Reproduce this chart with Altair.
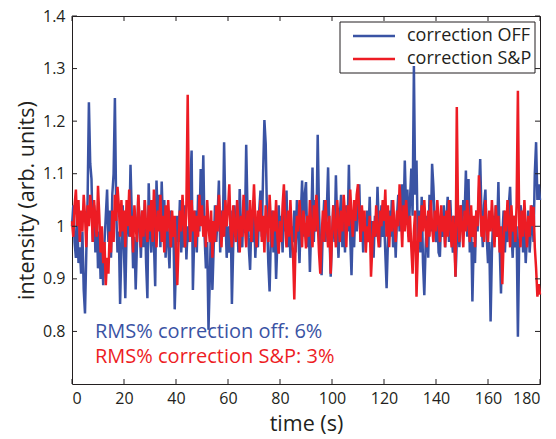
import altair as alt
import pandas as pd

# ---------------- data ----------------
STEP = 0.5  # sampling interval in seconds

blue_off = [
    1.00, 1.04, 0.97, 0.94, 1.02, 0.93, 0.96, 0.91, 0.99, 0.88, 0.834, 0.95, 1.05, 1.236, 1.12, 1.09, 0.97, 1.04, 0.95, 1.03,
    0.92, 0.99, 0.90, 0.96, 0.888, 0.97, 1.02, 1.07, 0.97, 1.03, 0.94, 1.06, 1.10, 1.244, 1.03, 0.95, 0.99, 0.852, 0.96, 1.04,
    0.95, 0.863, 0.99, 1.05, 0.98, 1.117, 1.02, 0.92, 0.98, 0.88, 0.97, 1.06, 1.00, 0.94, 1.03, 0.96, 1.05, 0.93, 0.863, 1.082,
    1.00, 0.95, 1.04, 0.97, 0.886, 1.087, 1.01, 1.06, 0.96, 1.085, 1.00, 1.05, 0.94, 1.02, 0.97, 0.92, 1.03, 0.96, 1.00, 0.842,
    0.93, 1.02, 0.97, 1.05, 0.95, 1.01, 0.96, 1.04, 0.937, 1.00, 0.97, 1.08, 1.144, 0.879, 0.98, 1.03, 0.95, 1.06, 0.99, 1.109,
    1.02, 1.135, 0.98, 0.92, 0.97, 0.803, 0.90, 1.01, 0.879, 0.96, 1.04, 0.97, 1.02, 1.087, 0.95, 1.03, 0.98, 1.16, 1.02, 0.94,
    1.00, 0.95, 1.03, 0.852, 0.96, 1.04, 0.98, 1.02, 0.95, 1.071, 1.00, 0.96, 1.05, 0.99, 1.155, 1.03, 0.96, 0.917, 1.01, 0.97,
    1.04, 0.94, 1.00, 0.96, 1.03, 1.068, 0.98, 1.10, 1.202, 1.157, 1.02, 0.93, 0.876, 0.98, 1.03, 0.95, 1.01, 0.90, 0.97, 1.04,
    0.98, 1.02, 0.95, 1.04, 0.99, 1.068, 0.96, 1.02, 0.94, 1.00, 0.97, 1.03, 0.95, 1.05, 0.99, 0.93, 1.02, 1.087, 0.98, 1.06,
    1.084, 0.96, 1.02, 0.913, 1.00, 1.112, 0.97, 1.05, 0.99, 1.174, 1.03, 0.95, 0.907, 1.00, 1.05, 0.97, 1.03, 1.112, 0.99, 0.904,
    0.98, 1.04, 0.97, 1.097, 1.00, 0.94, 1.02, 1.06, 0.96, 1.03, 0.95, 1.04, 0.99, 1.117, 0.98, 0.907, 1.01, 0.96, 1.04, 0.99,
    1.03, 1.08, 0.97, 1.02, 0.95, 1.01, 0.97, 1.03, 0.98, 1.056, 0.96, 1.01, 0.94, 1.02, 0.98, 1.075, 1.00, 0.96, 1.04, 0.98,
    1.02, 0.95, 0.882, 0.97, 1.03, 0.98, 1.05, 0.96, 1.01, 0.94, 1.02, 1.06, 0.99, 1.04, 1.08, 1.01, 1.125, 1.03, 1.07, 0.98,
    1.05, 1.11, 1.02, 1.305, 1.06, 1.125, 0.97, 1.03, 0.95, 1.056, 0.93, 0.869, 0.96, 1.02, 0.94, 1.06, 0.99, 1.119, 1.075, 1.01,
    0.97, 1.03, 0.95, 0.942, 1.02, 0.98, 1.04, 0.96, 1.01, 1.056, 0.97, 1.05, 0.99, 0.95, 1.02, 0.904, 0.97, 1.03, 0.96, 1.04,
    0.99, 1.05, 1.02, 1.106, 0.98, 1.09, 0.95, 1.01, 0.857, 0.97, 0.93, 1.03, 0.99, 1.06, 1.128, 1.02, 0.96, 1.04, 1.07, 0.98,
    0.93, 0.97, 0.819, 0.95, 1.02, 0.97, 1.04, 0.99, 1.084, 0.96, 0.872, 0.98, 1.03, 0.95, 1.01, 0.97, 1.04, 1.075, 0.99, 0.94,
    1.02, 0.96, 1.00, 0.79, 0.97, 1.04, 1.02, 0.95, 1.01, 0.93, 0.98, 1.03, 0.95, 0.99, 1.04, 0.97, 1.10, 1.16, 1.05, 1.08,
    1.05,
]

red_sp = [
    1.01, 0.98, 1.04, 1.07, 1.00, 1.05, 0.97, 1.03, 0.99, 1.06, 1.02, 0.96, 1.04, 1.00, 1.06, 1.03, 0.97, 1.05, 1.01, 0.98,
    1.077, 1.02, 0.95, 1.00, 0.93, 0.97, 0.888, 0.94, 0.91, 0.99, 0.95, 1.03, 0.97, 1.06, 1.01, 1.075, 1.04, 0.98, 1.05, 0.99,
    1.03, 0.96, 1.05, 1.00, 1.07, 0.98, 1.02, 0.95, 1.04, 1.00, 0.97, 1.06, 1.01, 0.96, 1.03, 0.98, 1.05, 1.00, 0.97, 1.04,
    0.99, 1.05, 0.97, 1.07, 1.01, 0.96, 1.03, 0.99, 1.06, 0.97, 1.02, 0.95, 1.04, 0.99, 1.05, 1.00, 0.96, 1.03, 0.98, 1.02,
    0.95, 0.888, 0.97, 1.03, 0.99, 1.06, 1.01, 0.96, 1.04, 1.25, 1.02, 0.97, 1.05, 0.99, 1.03, 0.96, 1.02, 0.98, 1.06, 1.00,
    1.04, 0.98, 1.02, 0.96, 1.05, 1.00, 0.97, 1.03, 0.94, 1.01, 0.97, 1.04, 0.99, 1.06, 1.01, 0.96, 1.03, 0.98, 1.05, 1.00,
    1.03, 1.08, 0.99, 0.96, 1.04, 1.00, 0.97, 1.05, 1.01, 0.95, 1.02, 0.98, 1.06, 1.00, 0.96, 1.03, 0.99, 1.05, 0.97, 1.02,
    1.08, 1.01, 0.96, 1.03, 0.99, 1.05, 0.97, 1.02, 0.95, 1.04, 1.00, 0.97, 1.06, 1.01, 0.96, 1.03, 0.99, 1.05, 0.98, 0.948,
    1.01, 0.97, 1.04, 1.08, 1.00, 0.96, 1.03, 0.98, 1.05, 0.99, 0.95, 0.861, 0.97, 1.02, 0.99, 1.05, 1.01, 0.96, 1.03, 1.00,
    0.958, 1.02, 0.98, 1.05, 1.00, 0.96, 1.04, 0.99, 1.06, 1.01, 0.95, 0.91, 0.98, 1.03, 0.97, 1.05, 1.00, 0.96, 1.02, 0.91,
    0.98, 1.04, 1.00, 0.96, 1.05, 1.01, 0.97, 1.03, 0.99, 1.06, 1.02, 0.96, 1.04, 1.00, 1.07, 1.02, 0.98, 1.05, 1.01, 1.06,
    1.08, 1.02, 0.97, 1.04, 0.99, 1.03, 0.95, 1.00, 0.97, 1.02, 0.904, 0.96, 1.01, 0.98, 1.04, 0.99, 0.96, 1.03, 1.00, 1.05,
    1.01, 1.07, 0.98, 1.04, 0.96, 1.02, 0.99, 1.05, 1.00, 0.97, 1.03, 1.00, 1.08, 1.02, 0.96, 1.04, 0.99, 1.05, 1.01, 0.97,
    1.02, 0.96, 0.91, 0.99, 1.03, 0.866, 0.95, 1.02, 0.97, 1.04, 0.99, 1.05, 1.00, 0.96, 1.03, 0.98, 1.05, 1.00, 0.97, 1.03,
    0.99, 1.05, 1.01, 0.97, 1.04, 0.99, 1.02, 0.96, 1.03, 0.98, 1.05, 1.00, 0.96, 1.02, 0.98, 0.904, 1.227, 1.01, 0.97, 1.04,
    1.00, 0.96, 1.03, 0.99, 1.05, 1.01, 0.97, 1.04, 0.98, 1.02, 0.96, 1.03, 1.00, 1.097, 1.04, 0.98, 1.02, 0.97, 1.05, 1.00,
    0.97, 1.03, 0.99, 1.05, 1.00, 0.96, 1.04, 0.98, 1.02, 0.95, 1.00, 0.89, 0.97, 1.03, 0.99, 1.05, 1.01, 0.96, 1.04, 0.99,
    1.02, 0.97, 1.04, 1.258, 1.00, 0.96, 1.03, 0.98, 1.05, 1.00, 0.96, 1.02, 0.98, 1.04, 1.00, 1.037, 0.96, 0.92, 0.866, 0.89,
    0.87,
]

x_ticks = [0, 20, 40, 60, 80, 100, 120, 140, 160, 180]
y_ticks = [0.8, 0.9, 1.0, 1.1, 1.2, 1.3, 1.4]
legend_labels = ["correction OFF", "correction S&P"]
rms_labels = ["RMS% correction off: 6%", "RMS% correction S&P: 3%"]
colors = ["#3a53a4", "#ed1c24"]

# ---------------- layout ----------------
W, H = 468, 368
FONT = "Open Sans"
INK = "#231f20"
TICK = 5

times = [round(i * STEP, 2) for i in range(len(blue_off))]
df_blue = pd.DataFrame({"t": times, "v": blue_off})
df_red = pd.DataFrame({"t": times[:len(red_sp)], "v": red_sp})

xscale = alt.Scale(domain=[0, 180], nice=False, zero=False)
yscale = alt.Scale(domain=[0.7, 1.4], nice=False, zero=False)

x_enc = alt.X("t:Q", scale=xscale,
              axis=alt.Axis(values=x_ticks, title="time (s)", labelPadding=6, titlePadding=7))
y_enc = alt.Y("v:Q", scale=yscale,
              axis=alt.Axis(values=y_ticks, format=".1~f", title="intensity (arb. units)",
                            labelPadding=7, titlePadding=4))

blue = alt.Chart(df_blue).mark_line(color=colors[0], strokeWidth=2.5, strokeJoin="miter").encode(x=x_enc, y=y_enc)
red = alt.Chart(df_red).mark_line(color=colors[1], strokeWidth=2.5, strokeJoin="miter").encode(x=x_enc, y=y_enc)

# inward ticks on all four sides (MATLAB style)
xt = pd.DataFrame({"t": x_ticks})
yt = pd.DataFrame({"v": y_ticks})
tick_bottom = alt.Chart(xt).mark_rule(color=INK, strokeWidth=1).encode(
    x=alt.X("t:Q", scale=xscale), y=alt.value(H), y2=alt.value(H - TICK))
tick_top = alt.Chart(xt).mark_rule(color=INK, strokeWidth=1).encode(
    x=alt.X("t:Q", scale=xscale), y=alt.value(0), y2=alt.value(TICK))
tick_left = alt.Chart(yt).mark_rule(color=INK, strokeWidth=1).encode(
    y=alt.Y("v:Q", scale=yscale), x=alt.value(0), x2=alt.value(TICK))
tick_right = alt.Chart(yt).mark_rule(color=INK, strokeWidth=1).encode(
    y=alt.Y("v:Q", scale=yscale), x=alt.value(W), x2=alt.value(W - TICK))

# legend box
one = pd.DataFrame({"k": [0]})
leg_box = alt.Chart(one).mark_rect(fill="white", stroke=INK, strokeWidth=1).encode(
    x=alt.value(268), x2=alt.value(463), y=alt.value(6), y2=alt.value(57))
leg_layers = []
for i, (lab, col) in enumerate(zip(legend_labels, colors)):
    yy = 20 + i * 23
    leg_layers.append(alt.Chart(one).mark_rule(color=col, strokeWidth=2.5).encode(
        x=alt.value(281), x2=alt.value(323), y=alt.value(yy)))
    leg_layers.append(alt.Chart(pd.DataFrame({"label": [lab]})).mark_text(
        align="left", baseline="middle", font=FONT, fontSize=18, color=INK).encode(
        text="label:N", x=alt.value(335), y=alt.value(yy)))

rms_layers = []
for i, (lab, col) in enumerate(zip(rms_labels, colors)):
    rms_layers.append(alt.Chart(pd.DataFrame({"label": [lab]})).mark_text(
        align="left", baseline="middle", font=FONT, fontSize=20, color=col).encode(
        text="label:N", x=alt.value(23), y=alt.value(316 + i * 25)))

chart = alt.layer(
    leg_box, blue, red, tick_bottom, tick_top, tick_left, tick_right, *leg_layers, *rms_layers
).properties(
    width=W, height=H,
    autosize=alt.AutoSizeParams(type="none"),
    padding={"left": 72, "top": 16, "right": 16, "bottom": 55},
    background="white",
).configure_view(
    stroke=INK, strokeWidth=1
).configure_axis(
    domain=False, ticks=False, grid=False,
    labelFont=FONT, labelFontSize=16, labelColor=INK,
    titleFont=FONT, titleFontSize=21.5, titleFontWeight="normal", titleColor=INK,
)

chart.save("out.html", embed_options={"renderer": "svg", "actions": False})
